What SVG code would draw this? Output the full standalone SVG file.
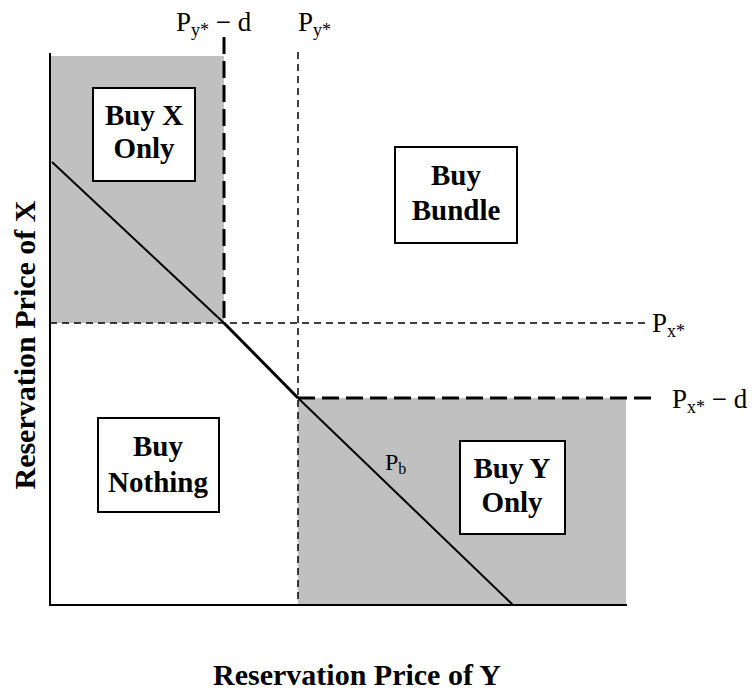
<svg xmlns="http://www.w3.org/2000/svg" width="752" height="690" viewBox="0 0 752 690">
<style>
.box{fill:#fff;stroke:#000;stroke-width:2}
.bl{font-family:"Liberation Serif","Times New Roman",serif;font-weight:bold;font-size:29px;text-anchor:middle;fill:#000}
.ax{font-family:"Liberation Serif","Times New Roman",serif;font-weight:bold;font-size:30px;text-anchor:middle;fill:#000}
.lb{font-family:"Liberation Serif","Times New Roman",serif;font-size:27px;fill:#000}
.sub{font-size:18px}
.heavy{stroke:#000;stroke-width:3;stroke-dasharray:17 7;fill:none}
.thin{stroke:#000;stroke-width:1.5;stroke-dasharray:7 5;fill:none}
.solid{stroke:#000;stroke-width:2;fill:none}
</style>
<rect width="752" height="690" fill="#fff"/>
<g id="regions">
<rect x="51" y="56" width="173" height="267" fill="#c0c0c0"/>
<rect x="298" y="398" width="328" height="207" fill="#c0c0c0"/>
</g>
<g id="connectors">
<line class="thin" x1="298" y1="52" x2="298" y2="605"/>
<line class="thin" x1="50" y1="323" x2="645" y2="323"/>
<line class="heavy" x1="224" y1="37" x2="224" y2="323"/>
<line class="heavy" x1="298" y1="398" x2="657" y2="398"/>
<line class="solid" x1="52" y1="162" x2="224" y2="323"/>
<line x1="224" y1="323" x2="298" y2="398" stroke="#000" stroke-width="3"/>
<line class="solid" x1="298" y1="398" x2="513" y2="605"/>
<line class="solid" x1="50" y1="53" x2="50" y2="606"/>
<line class="solid" x1="49" y1="605" x2="627" y2="605"/>
</g>
<g id="buyX">
<rect class="box" x="93" y="88" width="102" height="93"/>
<text class="bl" x="144" y="125">Buy X</text>
<text class="bl" x="144" y="158">Only</text>
</g>
<g id="buyBundle">
<rect class="box" x="395" y="147" width="122" height="96"/>
<text class="bl" x="456" y="185">Buy</text>
<text class="bl" x="456" y="220">Bundle</text>
</g>
<g id="buyNothing">
<rect class="box" x="98" y="418" width="121" height="94"/>
<text class="bl" x="158" y="456">Buy</text>
<text class="bl" x="158" y="492">Nothing</text>
</g>
<g id="buyY">
<rect class="box" x="460" y="441" width="105" height="93"/>
<text class="bl" x="512" y="478">Buy Y</text>
<text class="bl" x="512" y="512">Only</text>
</g>
<g id="labels">
<text class="lb" x="176" y="31">P<tspan class="sub" dy="5">y*</tspan><tspan dy="-5"> − d</tspan></text>
<text class="lb" x="298" y="31">P<tspan class="sub" dy="5">y*</tspan></text>
<text class="lb" x="652" y="332">P<tspan class="sub" dy="5">x*</tspan></text>
<text class="lb" x="672" y="408">P<tspan class="sub" dy="5">x*</tspan><tspan dy="-5"> − d</tspan></text>
<text class="lb" x="385" y="470" style="font-size:24px">P<tspan dy="4" style="font-size:16px">b</tspan></text>
<text class="ax" x="357" y="685">Reservation Price of Y</text>
<text class="ax" transform="translate(35,345) rotate(-90)">Reservation Price of X</text>
</g>
</svg>
